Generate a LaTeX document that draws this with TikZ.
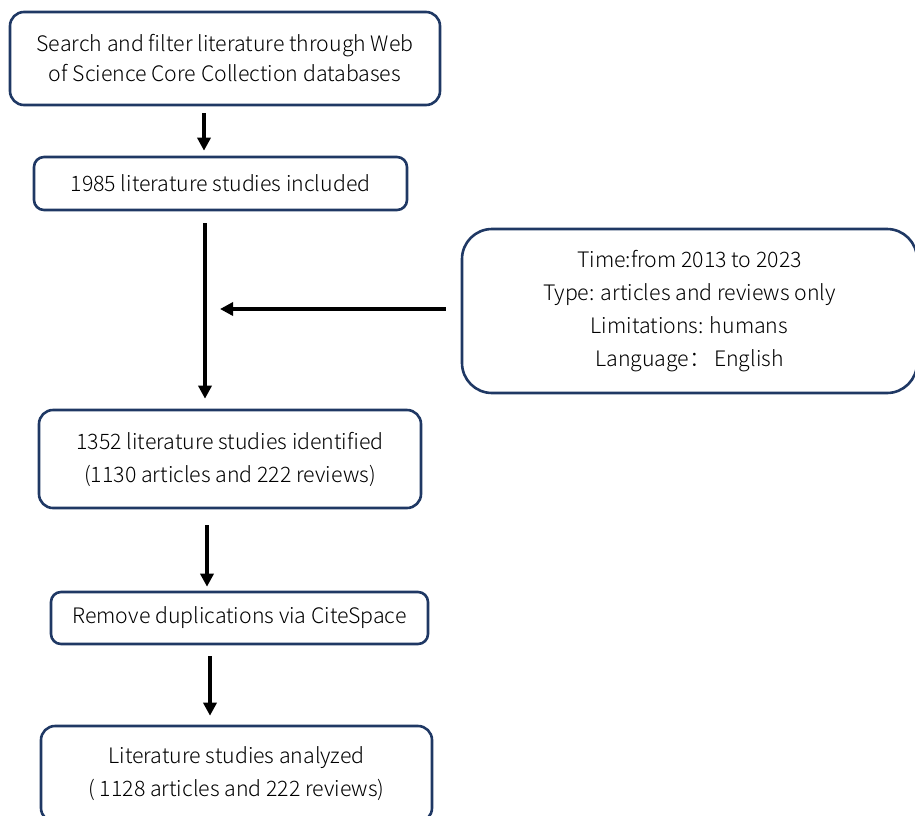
\documentclass[tikz,border=0pt]{standalone}
\usepackage{fontspec}
\setmainfont{Noto Sans CJK SC}[UprightFont=* Light]
\usetikzlibrary{arrows.meta}
\definecolor{navy}{HTML}{1F3864}
\tikzset{
  box/.style={draw=navy, line width=2.6pt, rounded corners=14pt, align=center,
    font=\fontsize{21.3}{33}\selectfont, inner sep=0pt},
  flow/.style={line width=3.5pt, -{Triangle[width=13pt,length=13pt]}}
}
\begin{document}
\begin{tikzpicture}[x=1pt,y=-1pt]
\useasboundingbox (0,0) rectangle (915,815);
\clip (0,0) rectangle (915,815);
\node[box, minimum width=430pt, minimum height=93pt, font=\fontsize{21.3}{30}\selectfont] (b1) at (225,58.5)
  {Search and filter literature through Web\\of Science Core Collection databases};
\node[box, minimum width=373pt, minimum height=53pt, rounded corners=10pt] (b2) at (220.5,183.5)
  {1985 literature studies included};
\node[box, minimum width=455pt, minimum height=164pt, rounded corners=30pt] (r) at (689.5,311)
  {Time:from 2013 to 2023\\Type: articles and reviews only\\Limitations: humans\\Language：\,English};
\node[box, minimum width=382pt, minimum height=98pt] (b3) at (230,459)
  {1352 literature studies identified\\(1130 articles and 222 reviews)};
\node[box, minimum width=377pt, minimum height=52pt, rounded corners=10pt] (b4) at (239.5,618)
  {Remove duplications via CiteSpace};
\node[box, minimum width=391pt, minimum height=96pt] (b5) at (236.5,774)
  {Literature studies analyzed\\( 1128 articles and 222 reviews)};
\coordinate (j) at (220,309);
\draw[flow] ([xshift=-21pt,yshift=-7pt]b1.south) -- ([xshift=-16.5pt,yshift=5pt]b2.north);
\draw[flow] ([xshift=-15.5pt,yshift=-12pt]b2.south) -- ([xshift=-25pt,yshift=10pt]b3.north);
\draw[flow] ([xshift=-15pt,yshift=2pt]r.west) -- (j);
\draw[flow] ([xshift=-23pt,yshift=-16pt]b3.south) -- ([xshift=-32.5pt,yshift=4pt]b4.north);
\draw[flow] ([xshift=-29.5pt,yshift=-11pt]b4.south) -- ([xshift=-26.5pt,yshift=9pt]b5.north);
\end{tikzpicture}
\end{document}
